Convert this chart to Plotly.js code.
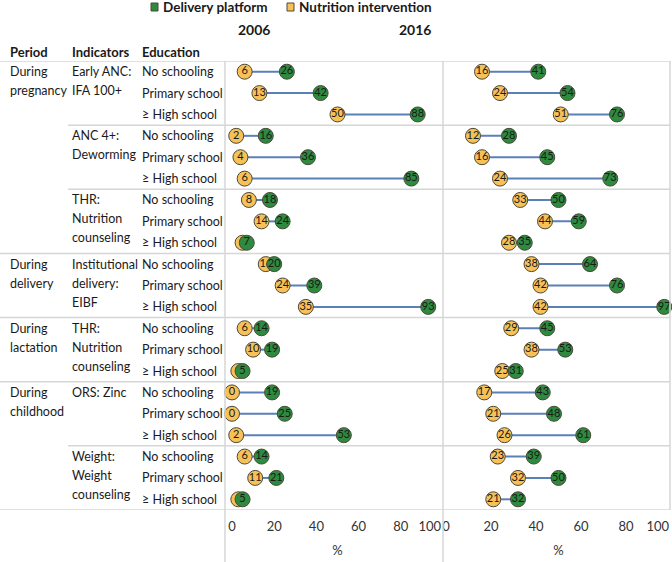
<!DOCTYPE html>
<html><head><meta charset="utf-8">
<script src="https://cdn.plot.ly/plotly-3.0.1.min.js"></script>
<style>body{margin:0;background:#fff}</style>
</head><body><div id="chart" style="width:672px;height:562px"></div>
<script>
// ---- data ----
const groupPeriods = ['During<br>pregnancy', '', '', 'During<br>delivery', 'During<br>lactation', 'During<br>childhood', ''];
const groupPeriodKeys = ['pregnancy', 'pregnancy', 'pregnancy', 'delivery', 'lactation', 'childhood', 'childhood'];
const groupIndicators = ['Early ANC:<br>IFA 100+', 'ANC 4+:<br>Deworming', 'THR:<br>Nutrition<br>counseling',
  'Institutional<br>delivery:<br>EIBF', 'THR:<br>Nutrition<br>counseling', 'ORS: Zinc', 'Weight:<br>Weight<br>counseling'];
const educationLevels = ['No schooling', 'Primary school', '≥ High school'];

const delivery2006  = [26, 42, 88, 16, 36, 85, 18, 24, 7, 20, 39, 93, 14, 19, 5, 19, 25, 53, 14, 21, 5];
const nutrition2006 = [6, 13, 50, 2, 4, 6, 8, 14, 5, 16, 24, 35, 6, 10, 3, 0, 0, 2, 6, 11, 3];
const delivery2016  = [41, 54, 76, 28, 45, 73, 50, 59, 35, 64, 76, 97, 45, 53, 31, 43, 48, 61, 39, 50, 32];
const nutrition2016 = [16, 24, 51, 12, 16, 24, 33, 44, 28, 38, 42, 42, 29, 38, 25, 17, 21, 26, 23, 32, 21];

const years = ['2006', '2016'];
const seriesNames = ['Delivery platform', 'Nutrition intervention'];
const headers = ['Period', 'Indicators', 'Education'];
const tickVals = [0, 20, 40, 60, 80, 100];
const tickText = ['0', '20', '40', '60', '80', '100'];
const axisTitle = '%';

// ---- styles ----
const FONT = 'Lato, "Open Sans", sans-serif';
const GREEN = '#2d8a3e';
const ORANGE = '#f7c158';
const EDGE = '#4a4a3a';
const LINEC = '#5b80b8';
const GRID = '#d6d6d6';
const TXT = '#1a1a1a';
const W = 672, H = 562;
const px = v => v / W;

const nRows = delivery2006.length;
const rowY = Array.from({length: nRows}, (_, i) => i);
const rowEdu = rowY.map(i => educationLevels[i % 3]);

function segs(a, b) {
  const xs = [], ys = [];
  a.forEach((v, i) => { xs.push(v, b[i], null); ys.push(i, i, null); });
  return {xs, ys};
}

const traces = [];
const panels = [
  {nut: nutrition2006, del: delivery2006, xa: 'x'},
  {nut: nutrition2016, del: delivery2016, xa: 'x2'}
];
panels.forEach(p => {
  const s = segs(p.nut, p.del);
  traces.push({type: 'scatter', mode: 'lines', x: s.xs, y: s.ys, xaxis: p.xa, yaxis: 'y',
    line: {color: LINEC, width: 2}, hoverinfo: 'skip', showlegend: false, cliponaxis: false});
  traces.push({type: 'scatter', mode: 'markers+text', x: p.nut, y: rowY, xaxis: p.xa, yaxis: 'y',
    name: seriesNames[1], text: p.nut.map(String), textposition: 'middle center',
    textfont: {family: FONT, size: 11, color: TXT}, cliponaxis: false,
    marker: {size: 15, color: ORANGE, line: {color: EDGE, width: 1}}, showlegend: false});
  traces.push({type: 'scatter', mode: 'markers+text', x: p.del, y: rowY, xaxis: p.xa, yaxis: 'y',
    name: seriesNames[0], text: p.del.map(String), textposition: 'middle center',
    textfont: {family: FONT, size: 11, color: TXT}, cliponaxis: false,
    marker: {size: 15, color: GREEN, line: {color: EDGE, width: 1}}, showlegend: false});
});

// ---- shapes ----
const shapes = [];
const yBotCanvas = -(562 - 510) / 449;
shapes.push({type: 'line', xref: 'paper', yref: 'y', x0: 0, x1: px(670), y0: -0.5, y1: -0.5, line: {color: GRID, width: 1.5}});
for (let g = 0; g < groupIndicators.length; g++) {
  const yb = g * 3 + 2.5;
  const last = g === groupIndicators.length - 1;
  const full = last || groupPeriodKeys[g] !== groupPeriodKeys[g + 1];
  shapes.push({type: 'line', xref: 'paper', yref: 'y', x0: full ? 0 : px(68), x1: px(670), y0: yb, y1: yb,
    line: {color: GRID, width: 1.5}});
}
[[225, yBotCanvas], [443, yBotCanvas], [670, 0]].forEach(([x, yb]) => {
  shapes.push({type: 'line', xref: 'paper', yref: 'paper', x0: px(x), x1: px(x), y0: yb, y1: 1,
    line: {color: GRID, width: 1.5}});
});
const topY = y => 1 + (61 - y) / 449; // canvas px -> paper
shapes.push({type: 'rect', xref: 'paper', yref: 'paper', x0: px(151), x1: px(158),
  y0: topY(11), y1: topY(3), fillcolor: GREEN, line: {color: EDGE, width: 1}});
shapes.push({type: 'rect', xref: 'paper', yref: 'paper', x0: px(287), x1: px(294),
  y0: topY(11), y1: topY(3), fillcolor: ORANGE, line: {color: EDGE, width: 1}});

// ---- annotations ----
const ann = [];
function txt(x, y, t, opts = {}) {
  ann.push(Object.assign({xref: 'paper', yref: 'paper', x: px(x), y: topY(y), text: t, showarrow: false,
    xanchor: 'left', yanchor: 'middle', font: {family: FONT, size: 13, color: TXT}}, opts));
}
txt(161, 7, '<b>' + seriesNames[0] + '</b>', {font: {family: FONT, size: 13.5, color: TXT}});
txt(297, 7, '<b>' + seriesNames[1] + '</b>', {font: {family: FONT, size: 13.5, color: TXT}});
txt(254, 30, '<b>' + years[0] + '</b>', {xanchor: 'center', font: {family: FONT, size: 14, color: TXT}});
txt(415, 30, '<b>' + years[1] + '</b>', {xanchor: 'center', font: {family: FONT, size: 14, color: TXT}});
txt(8, 52, '<b>' + headers[0] + '</b>');
txt(70, 52, '<b>' + headers[1] + '</b>');
txt(140, 52, '<b>' + headers[2] + '</b>');

function rowText(x, row, t) {
  t.split('<br>').forEach((line, k) => {
    ann.push({xref: 'paper', yref: 'y', x: px(x), y: row, yshift: -19 * k, text: line, showarrow: false,
      xanchor: 'left', yanchor: 'middle', font: {family: FONT, size: 12.5, color: TXT}});
  });
}
groupPeriods.forEach((p, g) => { if (p) rowText(8, g * 3, p); });
groupIndicators.forEach((p, g) => rowText(70, g * 3, p));
rowY.forEach(i => rowText(140, i, rowEdu[i]));

const axisBase = {range: [0, 100], showgrid: false, zeroline: false, showline: false, ticks: '',
  tickmode: 'array', tickvals: tickVals, anchor: 'y', ticklabeloverflow: 'allow', ticklabelstandoff: 7,
  tickfont: {family: FONT, size: 13, color: '#333'},
  title: {text: axisTitle, font: {family: FONT, size: 13, color: '#333'}, standoff: 12}, fixedrange: true};

const pad = n => '\u00a0'.repeat(n);
const layout = {
  width: W, height: H, margin: {l: 0, r: 0, t: 61, b: 52}, paper_bgcolor: '#fff', plot_bgcolor: 'rgba(0,0,0,0)',
  showlegend: false,
  xaxis: Object.assign({}, axisBase, {domain: [px(232), px(443)],
    ticktext: tickText.map((t, i) => i === tickText.length - 1 ? t + pad(8) : t)}),
  xaxis2: Object.assign({}, axisBase, {domain: [px(446), px(671)],
    ticktext: tickText.map((t, i) => i === tickText.length - 1 ? t + pad(8) : t)}),
  yaxis: {range: [20.5, -0.5], domain: [0, 1], visible: false, fixedrange: true},
  shapes: shapes, annotations: ann
};

Plotly.newPlot('chart', traces, layout, {displayModeBar: false, staticPlot: true});
</script></body></html>
